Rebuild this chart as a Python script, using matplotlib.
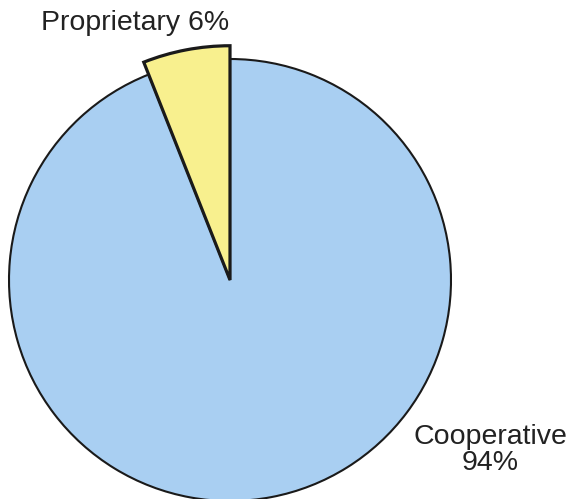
import matplotlib
matplotlib.use('Agg')
import matplotlib.pyplot as plt

labels = ['Proprietary', 'Cooperative']
shares = [6, 94]
colors = ['#f8f08e', '#a9cff2']

W, H = 572, 499
plt.rcParams['font.family'] = ['Liberation Sans', 'DejaVu Sans']

fig = plt.figure(figsize=(W / 100, H / 100), dpi=100)
ax = fig.add_axes([0, 0, 1, 1])

cx, cy, r = 230, H - 280, 221
wedges, _ = ax.pie(shares, colors=colors, startangle=90, counterclock=True,
                   center=(cx, cy), radius=r,
                   wedgeprops=dict(edgecolor='#1a1a1a', linewidth=1.5))
# the small slice is drawn a bit larger than the rest
wedges[0].set_radius(r * 1.06)
wedges[0].set_linewidth(2.3)
wedges[0].set_zorder(3)

ax.set_xlim(0, W)
ax.set_ylim(0, H)
ax.set_aspect('equal')
ax.axis('off')

ax.text(135, H - 23, 'Proprietary %d%%' % shares[0], ha='center', va='center',
        fontsize=20.5, color='#222222')
ax.text(490, H - 450, 'Cooperative\n%d%%' % shares[1], ha='center', va='center',
        fontsize=20.5, color='#222222', linespacing=1.05)

fig.savefig('out.png', dpi=100)
